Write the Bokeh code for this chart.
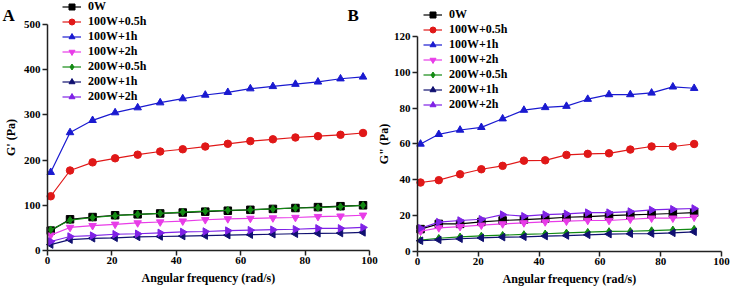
import math
from bokeh.plotting import figure
from bokeh.layouts import row
from bokeh.models import Range1d, Legend, LegendItem, Label
from bokeh.embed import file_html
from bokeh.resources import INLINE

series = ["0W", "100W+0.5h", "100W+1h", "100W+2h", "200W+0.5h", "200W+1h", "200W+2h"]
colors = ["#000000", "#E01818", "#1A1AD0", "#E83CE8", "#138A13", "#101070", "#7F22E6"]
markers = ["square", "circle", "triangle", "inverted_triangle", "diamond", "triangle", "triangle"]
angles = [0, 0, 0, 0, 0, math.pi / 2, -math.pi / 2]

# Panel A: G' (Pa)
freq_a = [1, 7, 14, 21, 28, 35, 42, 49, 56, 63, 70, 77, 84, 91, 98]
a_0w = [44, 69, 74, 78, 80, 82, 84, 86, 88, 90, 92, 94, 96, 98, 100]
a_100w_05h = [120, 177, 195, 204, 212, 219, 224, 230, 236, 242, 246, 250, 253, 256, 260]
a_100w_1h = [173, 261, 288, 305, 316, 327, 336, 344, 350, 358, 363, 368, 373, 380, 384]
a_100w_2h = [34, 51, 55, 58, 61, 63, 65, 68, 70, 71, 72, 73, 75, 76, 78]
a_200w_05h = [46, 67, 73, 77, 80, 82, 85, 87, 89, 90, 92, 94, 95, 97, 100]
a_200w_1h = [13, 24, 27, 28, 30, 31, 32, 33, 34, 35, 36, 37, 38, 38.5, 40]
a_200w_2h = [20, 31, 33, 36, 37, 39, 41, 42, 44, 45, 46, 47, 49, 49, 51]

# Panel B: G'' (Pa)
freq_b = [1, 7, 14, 21, 28, 35, 42, 49, 56, 63, 70, 77, 84, 91]
b_0w = [12.5, 15.4, 15.4, 16.5, 17.3, 17.8, 18.4, 19.1, 19.5, 20, 20.4, 20.8, 21.2, 21.7]
b_100w_05h = [38.5, 39.8, 43.1, 45.9, 47.8, 50.7, 50.9, 53.9, 54.5, 54.8, 56.9, 58.6, 58.6, 60]
b_100w_1h = [60, 65.4, 67.8, 69.3, 74.1, 78.9, 80.4, 81.1, 85, 87.6, 87.6, 88.5, 91.9, 91.1]
b_100w_2h = [11.3, 13.2, 13.9, 14.7, 15.4, 16, 16.5, 16.9, 17.3, 17.3, 18, 18.6, 18.6, 19.1]
b_200w_05h = [6.3, 7.4, 8.2, 8.7, 9.1, 9.5, 9.9, 10.4, 10.8, 11.2, 11.3, 11.7, 12.1, 12.5]
b_200w_1h = [6, 6.5, 7.1, 7.6, 8, 8.2, 8.6, 8.9, 9.3, 9.7, 9.9, 10, 10.4, 11]
b_200w_2h = [13, 16.4, 17.3, 18, 20.6, 19.7, 20.6, 21, 21.7, 21.7, 22.3, 23.2, 23.6, 24]

x_ticks = [0, 20, 40, 60, 80, 100]
a_ticks = [0, 100, 200, 300, 400, 500]
b_ticks = [0, 20, 40, 60, 80, 100, 120]

FONT = "Liberation Serif"


def make_panel(width, xr, yr, ybounds, yticks, ytitle, xs, ys_list, legend_loc, pitch, ytitle_standoff):
    p = figure(width=width, height=290, output_backend="svg", toolbar_location=None,
               x_range=Range1d(*xr), y_range=Range1d(*yr))
    p.min_border = 0
    p.min_border_left = 0
    p.min_border_right = 0
    p.min_border_top = 0
    p.min_border_bottom = 0
    p.outline_line_color = None
    p.xgrid.visible = False
    p.ygrid.visible = False
    p.background_fill_color = "white"
    p.border_fill_color = "white"
    for ax, ticks in ((p.xaxis[0], x_ticks), (p.yaxis[0], yticks)):
        ax.ticker = ticks
        ax.fixed_location = 0
        ax.minor_tick_line_color = None
        ax.major_tick_out = 5
        ax.major_tick_in = 0
        ax.axis_line_width = 1.5
        ax.major_tick_line_width = 1.5
        ax.axis_line_color = "#222222"
        ax.major_tick_line_color = "#222222"
        ax.major_label_text_font = FONT
        ax.major_label_text_font_style = "bold"
        ax.major_label_text_font_size = "11px"
        ax.major_label_text_color = "black"
        ax.major_label_standoff = 2
        ax.axis_label_text_font = FONT
        ax.axis_label_text_font_style = "bold"
        ax.axis_label_text_font_size = "12px"
        ax.axis_label_text_color = "black"
        ax.axis_label_standoff = 3
    p.yaxis[0].axis_label_standoff = ytitle_standoff
    p.xaxis[0].bounds = (0, 100)
    p.yaxis[0].bounds = ybounds
    p.xaxis.axis_label = "Angular frequency (rad/s)"
    p.yaxis.axis_label = ytitle

    items = []
    for name, col, mk, ang, ys in zip(series, colors, markers, angles, ys_list):
        r1 = p.line(xs, ys, line_color=col, line_width=1.2)
        r2 = p.scatter(xs, ys, marker=mk, angle=ang, size=7.5, fill_color=col, line_color=col)
        items.append(LegendItem(label=name, renderers=[r1, r2]))
    leg = Legend(items=items, location=legend_loc, orientation="vertical",
                 background_fill_alpha=0, border_line_color=None,
                 padding=0, margin=0, spacing=0,
                 glyph_width=19, glyph_height=pitch, label_height=pitch,
                 label_standoff=7, label_text_font=FONT, label_text_font_style="bold",
                 label_text_font_size="12px", label_text_color="black")
    p.add_layout(leg)
    return p


pa = make_panel(378, (-14.6, 102.8), (-88.5, 553.1), (0, 500), a_ticks, "G' (Pa)", freq_a,
                [a_0w, a_100w_05h, a_100w_1h, a_100w_2h, a_200w_05h, a_200w_1h, a_200w_2h],
                (62, 186), 15, 3)
pb = make_panel(358, (-12.83, 104.93), (-21.77, 140.09), (0, 120), b_ticks, 'G" (Pa)', freq_b,
                [b_0w, b_100w_05h, b_100w_1h, b_100w_2h, b_200w_05h, b_200w_1h, b_200w_2h],
                (45, 178), 15, 0)

pa.add_layout(Label(x=-14.0, y=520, text="A", text_font=FONT, text_font_style="bold",
                    text_font_size="17px", text_color="black", text_baseline="middle",
                    text_align="left"))
pa.add_layout(Label(x=93.2, y=520, text="B", text_font=FONT, text_font_style="bold",
                    text_font_size="17px", text_color="black", text_baseline="middle",
                    text_align="left"))

layout = row(pa, pb)
open("out.html", "w").write(file_html(layout, INLINE))
